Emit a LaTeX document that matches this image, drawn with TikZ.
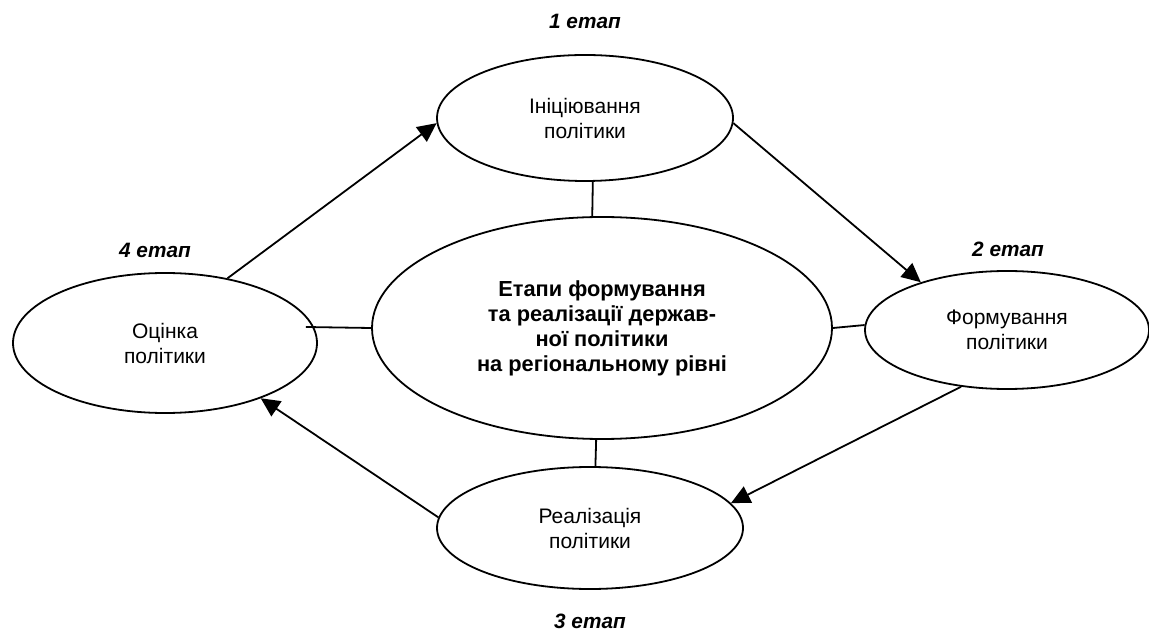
\documentclass[tikz,border=0pt]{standalone}
\usepackage{fontspec}
\setmainfont{Liberation Sans}
\usetikzlibrary{shapes.geometric,arrows.meta,calc}
\begin{document}
\begin{tikzpicture}[x=0.5pt,y=-0.5pt,
  stage/.style={draw,ellipse,line width=0.9pt,inner sep=0pt,align=center,
    font=\fontsize{10.5}{12.5}\selectfont},
  core/.style={stage,font=\fontsize{10.9}{12.5}\selectfont\bfseries},
  lbl/.style={font=\fontsize{10.4}{12}\selectfont\bfseries\itshape},
  link/.style={line width=0.9pt},
  flow/.style={line width=0.9pt,-{Triangle[length=9.5pt,width=9pt]}}]
\useasboundingbox (0,0) rectangle (1149,635);

\node[stage,minimum width=148pt,minimum height=63pt] (ini) at (585,118) {Ініціювання\\політики};
\node[core,minimum width=230pt,minimum height=111pt] (cen) at (602,328) {Етапи формування\\та реалізації держав-\\ної політики\\на регіональному рівні};
\node[stage,minimum width=152pt,minimum height=70pt] (ots) at (165,343) {Оцінка\\політики};
\node[stage,minimum width=142pt,minimum height=59pt] (frm) at (1007,330) {Формування\\політики};
\node[stage,minimum width=153pt,minimum height=61pt] (rea) at (590,528) {Реалізація\\політики};

\node[lbl] (l1) at (585,21) {1 етап};
\node[lbl] (l2) at (1008,249) {2 етап};
\node[lbl] (l3) at (590,621) {3 етап};
\node[lbl] (l4) at (155,250) {4 етап};

\coordinate (stub) at ($(ots.east)+(-12,-16)$);

\draw[link] (ini.-83) -- (cen.95);
\draw[link] (stub) -- (cen.180);
\draw[link] (cen.0) -- (frm.178);
\draw[link] (cen.-93) -- (rea.85);

\draw[flow] (ots.46) -- (ini.182);
\draw[flow] (ini.-2) -- (frm.151);
\draw[flow] (frm.231) -- (rea.10);
\draw[flow] (rea.176) -- (ots.-30);
\end{tikzpicture}
\end{document}
